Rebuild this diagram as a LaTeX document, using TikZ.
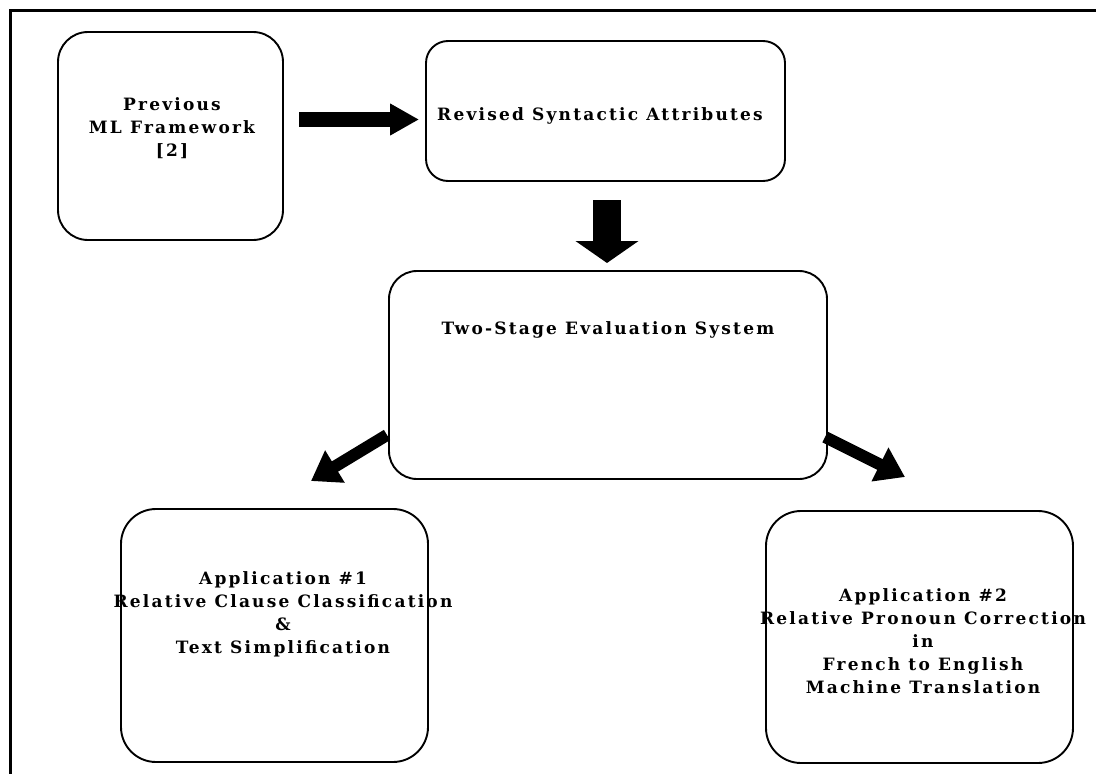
\documentclass[tikz,border=0pt]{standalone}
\usepackage{fontspec}
\setmainfont{DejaVu Serif}
\newfontfamily\lblfont{DejaVu Serif}[LetterSpace=13]
\usetikzlibrary{arrows.meta}
\begin{document}
\begin{tikzpicture}[x=1pt,y=-1pt,
  box/.style={draw, line width=1.9pt, inner sep=0pt},
  lbl/.style={font=\lblfont\bfseries\fontsize{17}{23}\selectfont, align=center, inner sep=0pt},
  blockarrow/.style={draw=black, line width=#1}]
\useasboundingbox (0,0) rectangle (1096,774);
% outer frame (only top and left visible)
\draw[line width=3pt] (1110,10) -- (10,10) -- (10,790);
% boxes
\node[box, rounded corners=30pt, minimum width=225pt, minimum height=208pt] (prev) at (170.5,136) {};
\node[box, rounded corners=22pt, minimum width=359pt, minimum height=140pt] (revised) at (605.5,111) {};
\node[box, rounded corners=28pt, minimum width=438pt, minimum height=208pt] (eval) at (608,375) {};
\node[box, rounded corners=35pt, minimum width=307pt, minimum height=253pt] (app1) at (274.5,635.5) {};
\node[box, rounded corners=35pt, minimum width=307pt, minimum height=252pt] (app2) at (919.5,637) {};
% texts
\node[lbl] (prevtxt) at (172,128) {Previous\\ML Framework\\{[2]}};
\node[lbl] (revtxt) at (600,116) {Revised Syntactic Attributes};
\node[lbl] (evaltxt) at (608,330) {Two-Stage Evaluation System};
\node[lbl] (app1txt) at (283,614) {Application \#1\\Relative Clause Classification\\\&\\Text Simplification};
\node[lbl] (app2txt) at (923,641) {Application \#2\\Relative Pronoun Correction\\in\\French to English\\Machine Translation};
% arrows
\coordinate (a1s) at (299,119.5);
\coordinate (a1e) at (419,119.5);
\coordinate (a2s) at (607,200);
\coordinate (a2e) at (607,263);
\coordinate (a3s) at (387,435);
\coordinate (a3e) at (311,481);
\coordinate (a4s) at (825,437);
\coordinate (a4e) at (905,477);
\draw[blockarrow=15pt, -{Triangle[length=29pt,width=30pt]}] (a1s) -- (a1e);
\draw[blockarrow=28pt, -{Triangle[length=22pt,width=62pt]}] (a2s) -- (a2e);
\draw[blockarrow=12pt, -{Triangle[length=28pt,width=36pt]}] (a3s) -- (a3e);
\draw[blockarrow=12pt, -{Triangle[length=28pt,width=36pt]}] (a4s) -- (a4e);
\end{tikzpicture}
\end{document}
